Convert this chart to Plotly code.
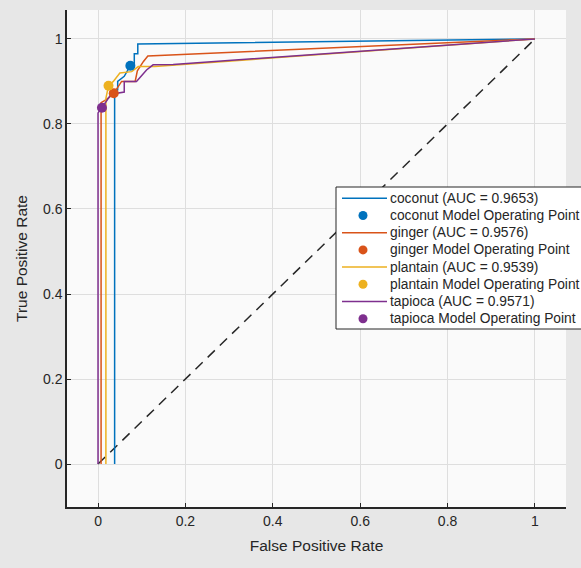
import plotly.graph_objects as go

# ---- data ----
classes = ["coconut", "ginger", "plantain", "tapioca"]
auc_values = [0.9653, 0.9576, 0.9539, 0.9571]

coconut_fpr = [0.038, 0.038, 0.045, 0.045, 0.06, 0.074, 0.083, 0.083, 0.091, 0.091, 1]
coconut_tpr = [0, 0.87, 0.88, 0.90, 0.912, 0.937, 0.937, 0.965, 0.965, 0.988, 1]

ginger_fpr = [0.007, 0.007, 0.015, 0.025, 0.036, 0.054, 0.085, 0.09, 0.104, 0.114, 1]
ginger_tpr = [0, 0.85, 0.855, 0.862, 0.872, 0.90, 0.90, 0.925, 0.947, 0.96, 1]

plantain_fpr = [0.018, 0.018, 0.024, 0.035, 0.05, 0.077, 0.092, 0.13, 1]
plantain_tpr = [0, 0.86, 0.89, 0.90, 0.92, 0.923, 0.935, 0.935, 1]

tapioca_fpr = [0, 0, 0.009, 0.02, 0.03, 0.06, 0.06, 0.088, 0.111, 0.126, 0.172, 1]
tapioca_tpr = [0, 0.826, 0.838, 0.855, 0.87, 0.875, 0.90, 0.90, 0.927, 0.939, 0.94, 1]

op_fpr = [0.074, 0.036, 0.024, 0.009]
op_tpr = [0.937, 0.872, 0.890, 0.838]

chance_x = [0, 1]
chance_y = [0, 1]

tick_vals = [0, 0.2, 0.4, 0.6, 0.8, 1]
tick_text = ["0", "0.2", "0.4", "0.6", "0.8", "1"]

# ---- style ----
colors = ["#0072BD", "#D95319", "#EDB120", "#7E2F8E"]
FONT = "Liberation Sans, Arial, Helvetica, sans-serif"
TXT = "#262626"
W, H = 581, 568
ML, MR, MT, MB = 67, 15, 10, 61

curves = [(coconut_fpr, coconut_tpr), (ginger_fpr, ginger_tpr),
          (plantain_fpr, plantain_tpr), (tapioca_fpr, tapioca_tpr)]

fig = go.Figure()
fig.add_trace(go.Scatter(x=chance_x, y=chance_y, mode="lines", showlegend=False,
                         line=dict(color=TXT, width=1.5, dash="10px,7px"),
                         hoverinfo="skip"))
for (fx, ty), c in zip(curves, colors):
    fig.add_trace(go.Scatter(x=fx, y=ty, mode="lines", line=dict(color=c, width=1.5),
                             showlegend=False))
for i, c in enumerate(colors):
    fig.add_trace(go.Scatter(x=[op_fpr[i]], y=[op_tpr[i]], mode="markers",
                             marker=dict(color=c, size=10), showlegend=False))

# ---- legend drawn in paper space (compact, MATLAB style) ----
pw, ph = W - ML - MR, H - MT - MB
def px(x):
    return (x - ML) / pw
def py(y):
    return (H - MB - y) / ph

labels = []
for name, auc in zip(classes, auc_values):
    labels.append(("line", f"{name} (AUC = {auc:.4f})"))
    labels.append(("dot", f"{name} Model Operating Point"))

box_l, box_t, box_b = 336, 187, 329
row0, row_step = 198.3, 17.2
shapes = [dict(type="rect", xref="paper", yref="paper", x0=px(box_l), x1=px(640),
               y0=py(box_b), y1=py(box_t), fillcolor="white",
               line=dict(color=TXT, width=1), layer="above")]
annotations = []
for k, (kind, text) in enumerate(labels):
    cy = row0 + k * row_step
    c = colors[k // 2]
    if kind == "line":
        shapes.append(dict(type="line", xref="paper", yref="paper", x0=px(342), x1=px(387),
                           y0=py(cy), y1=py(cy), line=dict(color=c, width=1.5), layer="above"))
    else:
        r = 4.5
        shapes.append(dict(type="circle", xref="paper", yref="paper",
                           x0=px(363 - r), x1=px(363 + r), y0=py(cy + r), y1=py(cy - r),
                           fillcolor=c, line=dict(color=c, width=0), layer="above"))
    annotations.append(dict(xref="paper", yref="paper", x=px(388), y=py(cy),
                            xanchor="left", yanchor="middle", text=text, showarrow=False,
                            font=dict(family=FONT, size=13.8, color=TXT)))

axis_common = dict(
    tickvals=tick_vals, ticktext=tick_text, showgrid=True, gridcolor="#dedede", gridwidth=1,
    zeroline=False, showline=True, linecolor=TXT, linewidth=1.5, mirror=False,
    ticks="inside", ticklen=4, tickcolor=TXT, tickwidth=1,
    tickfont=dict(family=FONT, size=14, color=TXT),
)

fig.update_layout(
    width=W, height=H,
    margin=dict(l=ML, r=MR, t=MT, b=MB),
    paper_bgcolor="#e7e7e7", plot_bgcolor="#fafafa",
    font=dict(family=FONT, color=TXT),
    xaxis=dict(range=[-0.071, 1.071], title=dict(text="False Positive Rate", standoff=13,
               font=dict(family=FONT, size=15.5, color=TXT)), **axis_common),
    yaxis=dict(range=[-0.101, 1.068], title=dict(text="True Positive Rate", standoff=12,
               font=dict(family=FONT, size=15.5, color=TXT)), **axis_common),
    shapes=shapes, annotations=annotations, showlegend=False,
)

fig.write_html("out.html", config={"displayModeBar": False},
               post_script="document.body.style.margin='0';document.body.style.overflow='hidden';")
